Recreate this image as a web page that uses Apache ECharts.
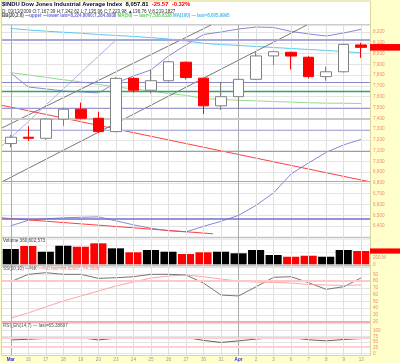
<!DOCTYPE html>
<html>
<head>
<meta charset="utf-8">
<script src="https://cdn.jsdelivr.net/npm/echarts@6.0.0/dist/echarts.min.js"></script>
<style>
html,body{margin:0;padding:0;background:#FFFFCC;}
#chart{width:400px;height:363px;}
</style>
</head>
<body>
<div id="chart"></div>
<script>
// ---------------- data ----------------
const categories = ['Mar','16','17','18','19','20','23','24','25','26','27','30','31','Apr','2','3','6','7','8','9','13'];
const monthLabels = ['Mar','Apr'];
const opens  = [7165,7224,7214,7392,7484,7400,7276,7770,7660,7748,7920,7772,7515,7600,7761,7978,8012,7966,7786,7831,8080];
const closes = [7224,7214,7392,7484,7400,7276,7770,7660,7748,7924,7778,7515,7600,7761,7978,8017,7977,7786,7831,8085,8057.81];
const lows   = [7130,7190,7200,7330,7390,7262,7270,7640,7630,7740,7760,7440,7476,7485,7755,7893,7853,7770,7748,7825,7960];
const highs  = [7245,7325,7400,7500,7545,7460,7780,7780,7855,7930,7925,7775,7738,7770,8017,8020,8015,7975,7878,8090,8100];
const prevClose = 7170;
const volumes = [488,584,402,593,561,670,510,383,456,402,329,383,402,351,456,297,242,274,242,456,424.2]; // millions
const bbUpper = [7820,7690,7672,7653,7644,7635,7727,7792,7848,7978,8080,8177,8200,8228,8246,8242,8205,8182,8163,8191,8225];
const bbLower = [6402,6453,6467,6476,6481,6485,6448,6411,6379,6356,6346,6397,6444,6499,6592,6708,6884,6986,7083,7153,7204];
const ma50  = [7823,7802,7779,7757,7737,7714,7690,7672,7653,7630,7612,7584,7574,7567,7561,7555,7550,7544,7540,7539,7536];
const ma100 = [8233,8219,8208,8198,8188,8177,8168,8159,8148,8135,8117,8095,8084,8075,8066,8056,8047,8038,8029,8019,8006];
const stochK = [79,90,92.4,90,90,84,85,86.5,90,90,89,77,59.4,58,71.7,85.6,86.5,77.6,67.8,71.7,84.8];
const stochD = [25.3,33,42,50.5,58,65.3,72.7,78.6,84.5,87.5,89,86.5,83,80,78.6,78,77.2,75,74.2,73.5,74.4];
const rsi = [59,62,66,69,69,59,67,70,66,69,70,57,48,55,63,69,69,60,55,61,65.4];
// drawn trend lines: [barIndex, price]
const channelUpper = [[-0.5,7310],[11.43,8265]];
const channelLower = [[-0.5,6810],[16.9,8265]];
const fastTrend    = [[-0.5,7143],[6.0,8126]];
const redTrendUpper = [[-0.5,7520],[20.5,6810]];
const redTrendLower = [[-0.5,6475],[11.54,6328]];
// drawn horizontal levels
const levels = [8126,7734,7653,7493,7394,7292,7097,6814,6467];
const priceMin = 6300, priceMax = 8265, priceStep = 100;
const volMax = 840, volStep = 200;
const stochMin = 20, stochMax = 102, stochStep = 10;
const stochLevels = [80, 20];
const rsiLevels = [70, 30];

// ---------------- styles ----------------
const levelStyles = [
  {color:'#A8A8D8', width:2},
  {color:'#8888C8', width:1},
  {color:'#33A070', width:1.3},
  {color:'#9A9AD0', width:1},
  {color:'#C8C8C8', width:2},
  {color:'#B0B0DD', width:1},
  {color:'#9A9AC8', width:1},
  {color:'#A8A8A8', width:1},
  {color:'#7070C8', width:1.5}
];
const fam = '"Liberation Sans", Arial, sans-serif';
const lblColor = '#F08A70';
const L = 2, R = 30;

const chart = echarts.init(document.getElementById('chart'));

const candleData = closes.map((c,i)=>[opens[i], c, lows[i], highs[i]]);
const volData = volumes.map((v,i)=>{
  const pc = i===0 ? prevClose : closes[i-1];
  return {value:v, itemStyle:{color: closes[i] < pc ? '#FF0000' : '#000000'}};
});
const catAxis = g => ({type:'category', gridIndex:g, data:categories, boundaryGap:true, show:false});
const axLbl = extra => Object.assign({color:lblColor, fontSize:4.6, fontFamily:fam, margin:3}, extra);
const split = {show:true, lineStyle:{color:'#E4E4E4', width:1}};
const mlBase = {silent:true, symbol:'none', animation:false, label:{show:false}};

const option = {
  animation:false,
  backgroundColor:'transparent',
  title:[
    {left:2, top:1.8, padding:0,
     text:'{a|$INDU Dow Jones Industrial Average Index}  {b|8,057.81}  {c|-25.57  -0.32%}',
     textStyle:{fontSize:5.9, fontFamily:fam, rich:{
       a:{color:'#000033', fontSize:5.9, fontWeight:'bold', fontFamily:fam},
       b:{color:'#000000', fontSize:5.9, fontWeight:'bold', fontFamily:fam},
       c:{color:'#FF0000', fontSize:5.9, fontWeight:'bold', fontFamily:fam}}}},
    {left:2, top:8.9, padding:0,
     text:'D: 03/13/2009 O:7,167.39 H:7,242.62 L:7,135.96 C:7,223.98 \u25B2136.76 V:8,219.1827',
     textStyle:{fontSize:4.65, fontFamily:fam, color:'#333333', fontWeight:'normal'}},
    {left:2, top:14.1, padding:0,
     text:'{g|BB(20,2.0)} {u|\u2014upper \u2014lower last=8,224.8000;7,284.8938} {m|MA(50) \u2014 last=7,536.0338} {c|MA(100) \u2014 last=8,005.9995}',
     textStyle:{fontSize:4.45, fontFamily:fam, rich:{
       g:{color:'#444444', fontSize:4.45, fontFamily:fam},
       u:{color:'#6666DD', fontSize:4.45, fontFamily:fam},
       m:{color:'#55CC55', fontSize:4.45, fontFamily:fam},
       c:{color:'#44BBEE', fontSize:4.45, fontFamily:fam}}}}
  ],
  grid:[
    {left:L, right:R, top:25, height:211.8},
    {left:L, right:R, top:238, height:26.3},
    {left:L, right:R, top:266.2, height:55.5},
    {left:L, right:R, top:330.7, height:22.6},
    {left:L, right:R, top:25, height:330}
  ],
  xAxis:[
    catAxis(0), catAxis(1), catAxis(2), catAxis(3),
    {type:'category', gridIndex:4, data:categories, boundaryGap:true,
     axisLine:{show:false}, axisTick:{show:false}, splitLine:{show:false},
     axisLabel:{interval:0, margin:2.5, fontSize:4.6, fontFamily:fam,
       formatter:v => monthLabels.includes(v) ? '{m|'+v+'}' : '{d|'+v+'}',
       rich:{m:{color:'#2828F0', fontWeight:'bold', fontSize:4.6, fontFamily:fam},
             d:{color:'#999999', fontSize:4.6, fontFamily:fam}}}},
    {type:'value', gridIndex:0, min:-0.5, max:20.5, show:false}
  ],
  yAxis:[
    {type:'value', gridIndex:0, position:'right', min:priceMin, max:priceMax, interval:priceStep,
     axisLine:{show:false}, axisTick:{show:false}, splitLine:split,
     axisLabel:axLbl({showMinLabel:false, showMaxLabel:false, formatter:v=>v.toLocaleString('en-US')})},
    {type:'value', gridIndex:1, position:'right', min:0, max:volMax, interval:volStep,
     axisLine:{show:false}, axisTick:{show:false}, splitLine:{show:true, lineStyle:{color:'#EEEEEE'}},
     axisLabel:axLbl({showMaxLabel:false, formatter:v=> v===0 ? '0' : (v===200 ? '200 M' : '')})},
    {type:'value', gridIndex:2, position:'right', min:stochMin, max:stochMax, interval:stochStep,
     axisLine:{show:false}, axisTick:{show:false}, splitLine:split,
     axisLabel:axLbl({showMaxLabel:false, formatter:v=> v>=100 ? '' : String(v)})},
    {type:'value', gridIndex:3, position:'right', min:0, max:100, interval:25,
     axisLine:{show:false}, axisTick:{show:false}, splitLine:split,
     axisLabel:axLbl({})},
    {type:'value', gridIndex:4, min:0, max:1, show:false}
  ],
  series:[
    {type:'line', xAxisIndex:4, yAxisIndex:4, data:categories.map(()=>null), z:0, showSymbol:false,
     markLine:Object.assign({}, mlBase, {data:categories.map((c,i)=>({xAxis:i,
       lineStyle:{color: monthLabels.includes(c) ? '#AAAAAA' : '#E0E0E0', width:1, type:'solid'}}))})},
    {type:'line', xAxisIndex:0, yAxisIndex:0, data:bbUpper, symbol:'none', z:2,
     lineStyle:{color:'#7B7BD0', width:0.9},
     markLine:Object.assign({}, mlBase, {data:levels.map((v,i)=>({yAxis:v,
       lineStyle:{color:levelStyles[i].color, width:levelStyles[i].width, type:'solid'}}))})},
    {type:'line', xAxisIndex:0, yAxisIndex:0, data:bbLower, symbol:'none', z:2, lineStyle:{color:'#7B7BD0', width:0.9}},
    {type:'line', xAxisIndex:0, yAxisIndex:0, data:ma50, symbol:'none', z:2, lineStyle:{color:'#90DC90', width:1}},
    {type:'line', xAxisIndex:0, yAxisIndex:0, data:ma100, symbol:'none', z:2, lineStyle:{color:'#5CC8EE', width:1}},
    {type:'line', xAxisIndex:5, yAxisIndex:0, data:channelUpper, symbol:'none', z:3, lineStyle:{color:'#555555', width:0.8}},
    {type:'line', xAxisIndex:5, yAxisIndex:0, data:channelLower, symbol:'none', z:3, lineStyle:{color:'#555555', width:0.8}},
    {type:'line', xAxisIndex:5, yAxisIndex:0, data:fastTrend, symbol:'none', z:3, lineStyle:{color:'#9A9AE0', width:0.8}},
    {type:'line', xAxisIndex:5, yAxisIndex:0, data:redTrendUpper, symbol:'none', z:3, lineStyle:{color:'#FF4040', width:1}},
    {type:'line', xAxisIndex:5, yAxisIndex:0, data:redTrendLower, symbol:'none', z:3, lineStyle:{color:'#FF4040', width:1}},
    {type:'candlestick', xAxisIndex:0, yAxisIndex:0, data:candleData, barWidth:11, z:5,
     itemStyle:{color:'#FFFFFF', color0:'#FF0000', borderColor:'#808080', borderColor0:'#FF0000', borderWidth:1}},
    {type:'bar', xAxisIndex:1, yAxisIndex:1, data:volData, barCategoryGap:'8%', z:3},
    {type:'line', xAxisIndex:2, yAxisIndex:2, data:stochK, symbol:'none', z:4, lineStyle:{color:'#666666', width:0.9},
     markLine:Object.assign({}, mlBase, {data:stochLevels.map(v=>({yAxis:v,
       lineStyle:{color: v===80 ? '#FFC8C8' : '#F09A9A', width: v===80 ? 2 : 1.5, type:'solid'}}))})},
    {type:'line', xAxisIndex:2, yAxisIndex:2, data:stochD, symbol:'none', z:4, lineStyle:{color:'#FF9A9A', width:0.9}},
    {type:'line', xAxisIndex:3, yAxisIndex:3, data:rsi, symbol:'none', z:4, lineStyle:{color:'#5A4A4A', width:0.9},
     markLine:Object.assign({}, mlBase, {data:rsiLevels.map(v=>({yAxis:v,
       lineStyle:{color:'#FFD0D0', width:2.2, type:'solid'}}))})}
  ]
};
chart.setOption(option);

// boxes for last values and panel texts
const lastClose = closes[closes.length-1];
const lastVol = volumes[volumes.length-1];
const yLast = chart.convertToPixel({yAxisIndex:0}, lastClose);
const yVol = chart.convertToPixel({yAxisIndex:1}, lastVol);
const txt = (x, y, text, fill, size, weight) => ({type:'text', x:x, y:y, silent:true, z:50,
  style:{text:text, fill:fill, font:(weight||'normal')+' '+size+'px '+fam, verticalAlign:'middle', align:'left'}});
const hline = (y, color) => ({type:'line', silent:true, z:1, shape:{x1:L, y1:y, x2:400-R, y2:y}, style:{stroke:color, lineWidth:1}});

chart.setOption({graphic:[
  {type:'rect', silent:true, z:-100, shape:{x:1.5, y:1, width:369, height:354.5}, style:{fill:'#FFFFFF', stroke:'#D9D6A0', lineWidth:1}},
  hline(24.5, '#CCCCCC'),
  hline(237.3, '#BBBBBB'),
  hline(265.6, '#BBBBBB'),
  hline(323.6, '#DDDDDD'),
  txt(3, 240.3, 'Volume 360,602,573', '#444444', 4.6),
  {type:'text', x:3, y:268.8, silent:true, z:50, style:{
    text:'{a|SS(10,10) \u2014%K }{b|\u2014%D last=84.80987, 74.3999}',
    verticalAlign:'middle', font:'4.6px '+fam,
    rich:{a:{fill:'#555555', fontSize:4.6, fontFamily:fam}, b:{fill:'#FF8080', fontSize:4.6, fontFamily:fam}}}},
  txt(3, 325.3, 'RSI_EN(14,7) \u2014 last=65.38697', '#555555', 4.6),
  {type:'rect', silent:true, z:60, shape:{x:370, y:yLast-3.3, width:30, height:6.6}, style:{fill:'#FF0000'}},
  txt(371.5, yLast, lastClose.toLocaleString('en-US',{minimumFractionDigits:2}), '#FFFFFF', 4.8, 'bold'),
  {type:'rect', silent:true, z:60, shape:{x:370, y:yVol-2.6, width:30, height:5.2}, style:{fill:'#FF0000'}},
  txt(371.5, yVol, lastVol.toFixed(1)+' M', '#FFFFFF', 4.5, 'bold')
]});
</script>
</body>
</html>
